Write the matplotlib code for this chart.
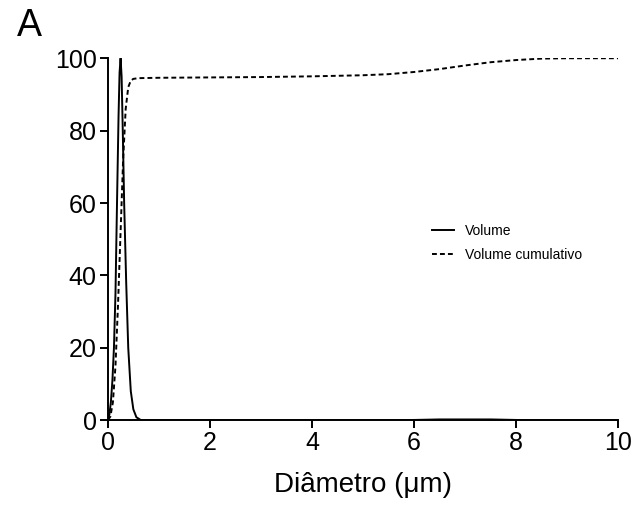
import matplotlib
matplotlib.use("Agg")
import matplotlib.pyplot as plt

plt.rcParams['font.family'] = ['Liberation Sans', 'DejaVu Sans']

# distribuicao de tamanho de particula (volume %)
diam_vol = [0, 0.03, 0.06, 0.09, 0.12, 0.15, 0.18, 0.21, 0.23, 0.25, 0.27, 0.29, 0.32,
            0.36, 0.40, 0.45, 0.50, 0.56, 0.65, 1.0, 2.0, 4.0, 5.8, 6.5, 7.5, 8.2, 10.0]
volume = [0, 1.5, 5, 11, 20, 35, 60, 84, 96, 100, 95, 82, 60,
          38, 20, 8, 3, 0.8, 0, 0, 0, 0, 0, 0.2, 0.2, 0, 0]

diam_cum = [0, 0.05, 0.10, 0.15, 0.20, 0.25, 0.30, 0.35, 0.40, 0.45, 0.50, 0.60, 1.0,
            2.0, 3.0, 4.0, 5.0, 5.5, 6.0, 6.5, 7.0, 7.5, 8.0, 8.5, 9.0, 10.0]
vol_cum = [0, 1, 5, 15, 32, 52, 72, 86, 92, 93.8, 94.3, 94.5, 94.6,
           94.7, 94.8, 95.0, 95.3, 95.6, 96.2, 97.0, 98.0, 98.9, 99.5, 99.9, 100, 100]

fig = plt.figure(figsize=(6.38, 5.2), dpi=100)
ax = fig.add_axes([0.169, 0.192, 0.800, 0.696])

ax.plot(diam_vol, volume, color='black', lw=1.4, label='Volume')
ax.plot(diam_cum, vol_cum, color='black', lw=1.4, linestyle=(0, (2.5, 1.6)),
        label='Volume cumulativo')

ax.set_xlim(0, 10)
ax.set_ylim(0, 100)
ax.set_xticks([0, 2, 4, 6, 8, 10])
ax.set_yticks([0, 20, 40, 60, 80, 100])
for s in ['top', 'right']:
    ax.spines[s].set_visible(False)
for s in ['left', 'bottom']:
    ax.spines[s].set_linewidth(1.4)
ax.tick_params(direction='out', length=6, width=1.4, labelsize=18, pad=2)

ax.set_xlabel('Diâmetro (\u03bcm)', fontsize=20, labelpad=12)

ax.legend(loc='center left', bbox_to_anchor=(0.61, 0.49), frameon=False,
          fontsize=10, handlelength=1.6, handletextpad=0.8, labelspacing=0.75)

fig.text(0.026, 0.93, 'A', fontsize=27)

fig.savefig('out.png', dpi=100)
